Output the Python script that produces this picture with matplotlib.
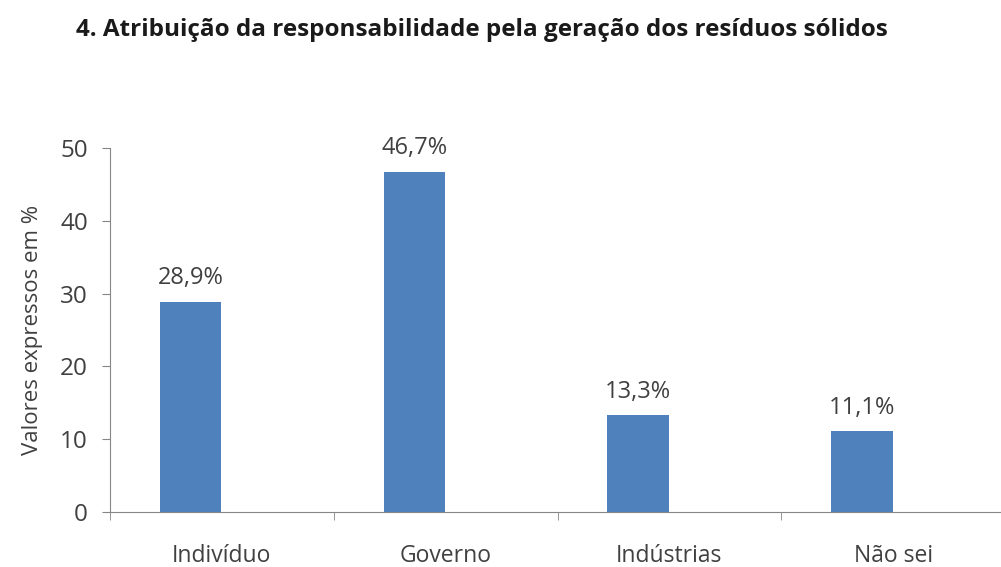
import matplotlib
matplotlib.use('Agg')
import numpy as np
import matplotlib.pyplot as plt

plt.rcParams['font.family'] = ['Open Sans', 'DejaVu Sans']

categories = ['Indivíduo', 'Governo', 'Indústrias', 'Não sei']
values = [28.9, 46.7, 13.3, 11.1]
labels = ['28,9%', '46,7%', '13,3%', '11,1%']

TXT = '#404040'
BAR = '#4F81BD'

fig = plt.figure(figsize=(10.01, 5.67), dpi=100)
ax = fig.add_axes([110/1001, 55/567, 895/1001, 364/567])

x = np.arange(len(categories))
off = -0.14  # bars sit left of slot centre like the original
ax.bar(x + off, values, width=0.275, color=BAR, zorder=2)
for xi, v, lab in zip(x, values, labels):
    ax.text(xi + off, v + 1.6, lab, ha='center', va='bottom', fontsize=17, color=TXT)

ax.set_xlim(-0.5, 3.5)
ax.set_ylim(0, 50)
ax.set_yticks(range(0, 51, 10))
ax.set_xticks(x)
ax.set_xticklabels(categories)
ax.set_xticks(np.arange(-0.5, 4.0, 1.0), minor=True)
ax.tick_params(axis='x', which='major', length=0, pad=23, labelsize=16.5, labelcolor=TXT)
ax.tick_params(axis='x', which='minor', length=6, color='#868686', direction='out')
ax.tick_params(axis='y', length=6, color='#868686', labelsize=17.5, labelcolor=TXT, pad=10)

for s in ['top', 'right']:
    ax.spines[s].set_visible(False)
for s in ['left', 'bottom']:
    ax.spines[s].set_color('#868686')

ax.set_ylabel('Valores expressos em %', fontsize=16, color=TXT, labelpad=12)

fig.text(482/1001, 1 - 30/567, '4. Atribuição da responsabilidade pela geração dos resíduos sólidos',
         ha='center', va='center', fontsize=17.5, fontweight='bold', color='#1a1a1a')

fig.savefig('out.png', dpi=100)
